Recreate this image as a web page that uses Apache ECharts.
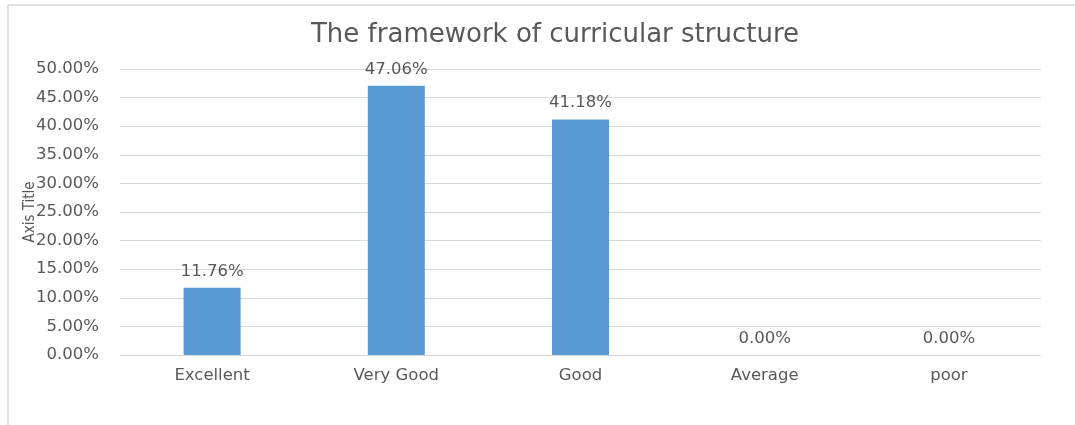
<!DOCTYPE html>
<html>
<head>
<meta charset="utf-8">
<script src="https://cdn.jsdelivr.net/npm/echarts@6/dist/echarts.min.js"></script>
<style>
  html, body { margin: 0; padding: 0; background: #fff; }
  #chart { width: 1075px; height: 425px; }
</style>
</head>
<body>
<div id="chart"></div>
<script>
const categories = ["Excellent", "Very Good", "Good", "Average", "poor"];
const values = [11.76, 47.06, 41.18, 0, 0];
const yMax = 50;
const yStep = 5;

const chart = echarts.init(document.getElementById("chart"));

const textColor = "#595959";

const option = {
  animation: false,
  backgroundColor: "#fff",
  title: {
    text: "The framework of curricular structure",
    left: 550,
    top: 17,
    textAlign: "center",
    textStyle: {
      fontFamily: "DejaVu Sans",
      fontSize: 26,
      fontWeight: "normal",
      color: textColor,
    },
  },
  grid: {
    left: 120,
    right: 34,
    top: 69,
    bottom: 70,
  },
  xAxis: {
    type: "category",
    data: categories,
    axisLine: { lineStyle: { color: "#d9d9d9" } },
    axisTick: { show: false },
    axisLabel: {
      fontFamily: "DejaVu Sans",
      fontSize: 16.5,
      color: textColor,
      margin: 12,
    },
  },
  yAxis: {
    type: "value",
    min: 0,
    max: yMax,
    interval: yStep,
    name: "Axis Title",
    nameLocation: "middle",
    nameGap: 82,
    nameMoveOverlap: false,
    nameTextStyle: {
      fontFamily: "DejaVu Sans Condensed",
      fontSize: 15,
      color: textColor,
    },
    axisLine: { show: false },
    axisTick: { show: false },
    splitLine: { lineStyle: { color: "#d9d9d9" } },
    axisLabel: {
      fontFamily: "DejaVu Sans",
      fontSize: 16.5,
      color: textColor,
      margin: 21,
      formatter: (v) => v.toFixed(2) + "%",
    },
  },
  graphic: [
    {
      type: "line",
      shape: { x1: 8, y1: 5, x2: 1075, y2: 5 },
      style: { stroke: "#d9d9d9", lineWidth: 1.5 },
    },
    {
      type: "line",
      shape: { x1: 8, y1: 5, x2: 8, y2: 425 },
      style: { stroke: "#d9d9d9", lineWidth: 1.5 },
    },
  ],
  series: [
    {
      type: "bar",
      data: values,
      barWidth: 57,
      itemStyle: { color: "#5b9bd5" },
      label: {
        show: true,
        position: "top",
        distance: 8,
        fontFamily: "DejaVu Sans",
        fontSize: 16.5,
        color: textColor,
        formatter: (p) => p.value.toFixed(2) + "%",
      },
    },
  ],
};

chart.setOption(option);
</script>
</body>
</html>
